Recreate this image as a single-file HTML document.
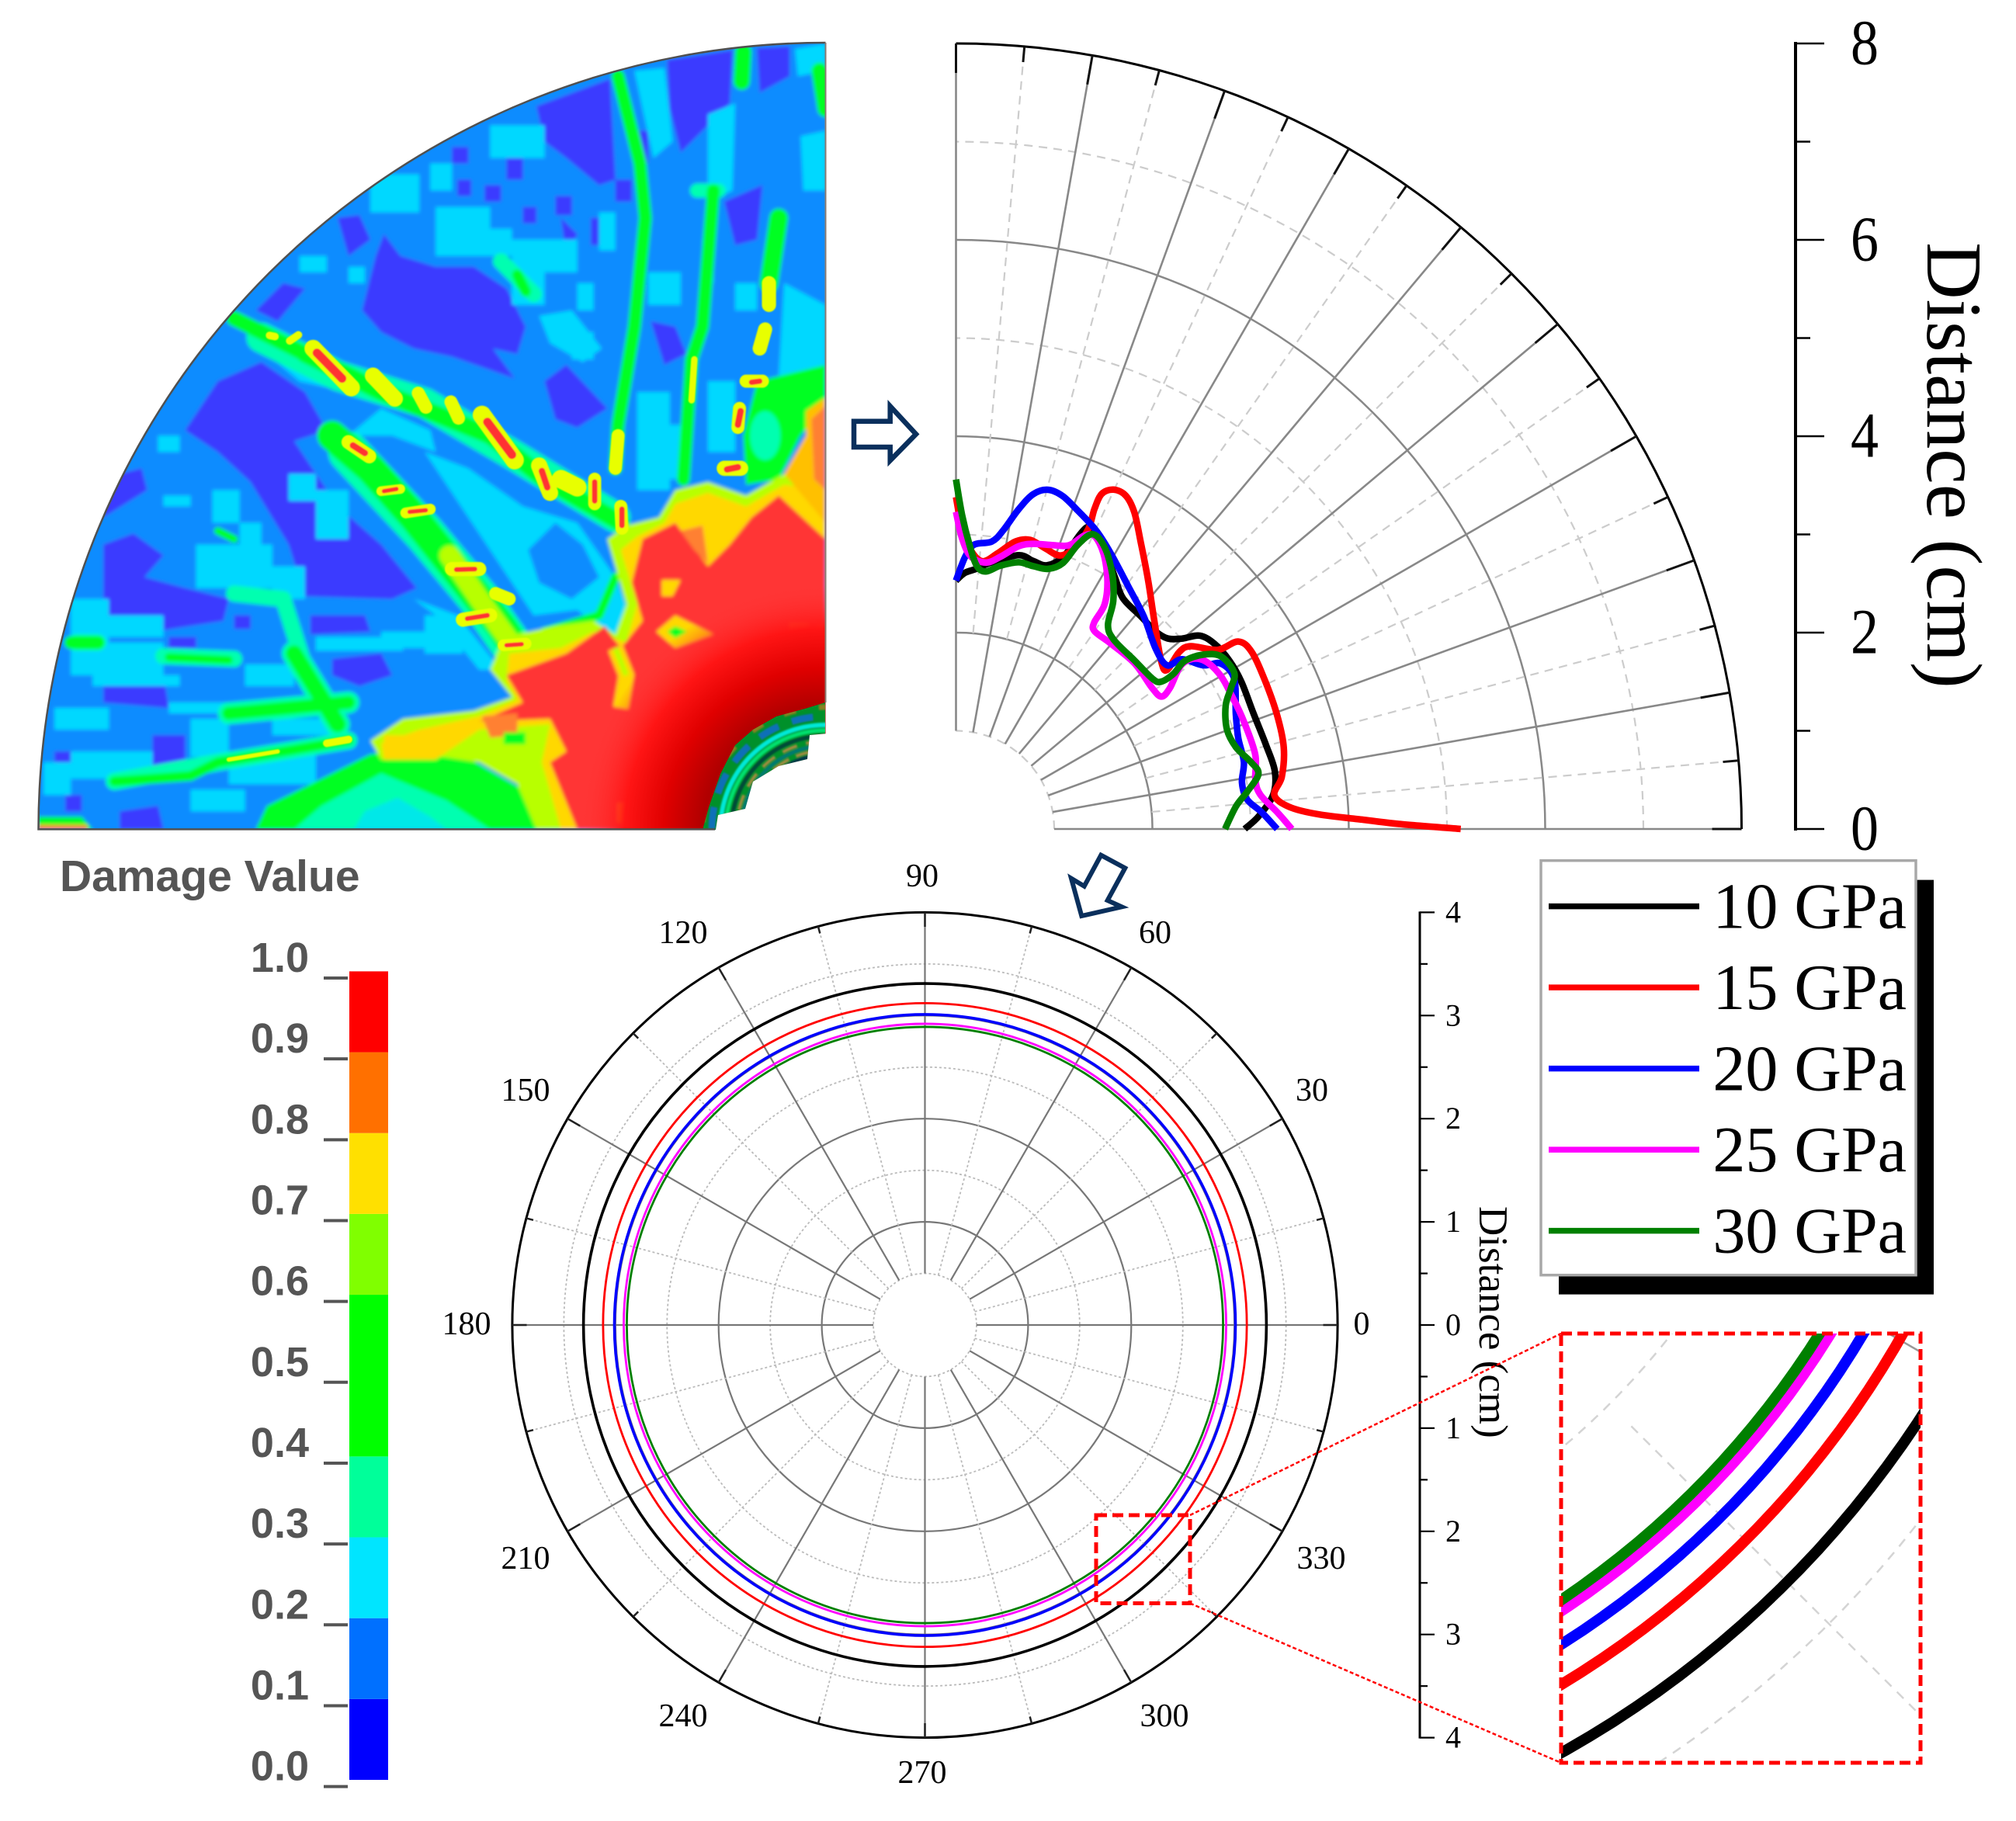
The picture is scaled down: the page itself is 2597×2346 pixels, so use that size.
<!DOCTYPE html>
<html lang="en">
<head>
<meta charset="utf-8">
<title>Damage distribution polar charts</title>
<style>
html,body{margin:0;padding:0;background:#fff;overflow:hidden;}
svg{display:block;}
text{font-family:"Liberation Serif",serif;fill:#000;}
.sans{font-family:"Liberation Sans",sans-serif;font-weight:bold;fill:#555;}
</style>
</head>
<body>
<svg id="figure" xmlns="http://www.w3.org/2000/svg" width="2597" height="2346" viewBox="0 0 2597 2346">
<defs>
<clipPath id="fanClip"><path d="M1516,1523 L70,1523 A1446,1446 0 0 1 1516,78 Z"/></clipPath>
<clipPath id="insetClip"><rect x="2011" y="1718" width="463" height="553"/></clipPath>
<filter id="soft" x="-5%" y="-5%" width="110%" height="110%"><feGaussianBlur stdDeviation="3.5"/></filter>
<filter id="softer" x="-5%" y="-5%" width="110%" height="110%"><feGaussianBlur stdDeviation="1"/></filter>
<radialGradient id="coreGrad" gradientUnits="userSpaceOnUse" cx="1516" cy="1523" r="450">
<stop offset="0.5" stop-color="#b00000"/>
<stop offset="0.66" stop-color="#e00000"/>
<stop offset="0.82" stop-color="#ff1515"/>
<stop offset="1" stop-color="#ff3535" stop-opacity="0"/>
</radialGradient>
<clipPath id="ringClip"><polygon points="905,1069 913,1040 928,997 947,960 970,940 1000,923 1037,913 1063,905 1063,945 1043,947 1040,978 1003,987 970,1007 960,1042 925,1050 922,1069"/></clipPath>
</defs>

<g transform="scale(0.70153)">
<g clip-path="url(#fanClip)">
<g filter="url(#soft)">
<rect x="60" y="70" width="1460" height="1460" fill="#0a8cff"/>

<g fill="#3a3aff">
<polygon points="985,195 1120,145 1130,330 1100,340 1040,290 1000,260"/>
<polygon points="1225,110 1345,92 1340,190 1290,240 1250,280 1230,200"/>
<polygon points="1390,88 1450,85 1450,140 1395,170"/>
<polygon points="665,570 690,470 705,430 735,470 800,490 870,490 930,530 965,600 950,650 905,640 945,695 830,655 760,640 700,610"/>
<polygon points="620,400 660,395 680,440 640,470"/>
<polygon points="1000,700 1040,670 1115,750 1060,785 1020,770"/>
<polygon points="470,570 520,520 560,530 510,590"/>
<polygon points="1195,590 1240,600 1260,650 1220,670"/>
<polygon points="1330,370 1400,340 1390,440 1350,450"/>
<polygon points="340,790 400,700 480,665 560,720 600,790 540,810 620,930 700,1000 765,1080 720,1100 560,1095 530,1000 460,885 400,830"/>
<polygon points="190,1000 245,980 300,1020 265,1060 340,1080 420,1100 410,1140 250,1165 190,1125"/>
<polygon points="570,1130 670,1130 680,1160 570,1165"/>
<polygon points="610,1210 700,1200 720,1240 660,1260 610,1240"/>
<polygon points="280,1350 340,1350 340,1420 280,1410"/>
<polygon points="100,1380 180,1380 170,1400 100,1400"/>
<polygon points="220,1490 290,1480 300,1523 220,1523"/>
<polygon points="190,1250 300,1240 310,1300 190,1290"/>
<polygon points="1030,400 1060,430 1040,470"/>
<polygon points="180,880 260,860 270,900 190,950"/>
<path d="M830 270h30v30h-30zM930 290h30v40h-30zM840 330h25v30h-25zM890 340h30v30h-30zM1020 360h30v35h-30zM960 380h25v30h-25zM1085 400h25v50h-25zM1170 240h20v60h-20zM1130 330h30v40h-30zM310 1170h50v20h-50zM430 1130h30v25h-30zM120 1460h30v30h-30zM440 1400h40v25h-40z"/>
</g>

<g fill="#00d8ff">
<polygon points="780,830 860,860 960,930 1060,960 1130,1060 1170,1170 1130,1180 1060,1120 980,1130 900,1010 840,920"/>
<polygon points="1440,520 1516,560 1516,680 1430,690"/>
<polygon points="1460,90 1516,80 1516,130 1465,140"/>
<polygon points="1470,250 1516,240 1516,350 1475,350"/>
<polygon points="1300,210 1350,190 1345,350 1300,370"/>
<polygon points="1165,130 1220,125 1235,260 1200,290 1180,200"/>
<polygon points="640,800 700,750 790,790 800,830 720,800"/>
<polygon points="550,700 480,640 520,660 640,720"/>
<polygon points="880,1230 800,1130 760,1100 840,1130 920,1230"/>
<polygon points="990,580 1050,570 1105,640 1070,665 1010,630"/>
<path d="M680 320h90v70h-90zM800 380h100v90h-100zM900 230h100v60h-100zM940 440h60v120h-60zM1000 440h60v60h-60zM1100 390h30v70h-30zM1050 610h40v50h-40zM550 470h50v30h-50zM640 490h30v30h-30zM790 300h40v50h-40zM880 420h60v50h-60zM1060 520h30v50h-30zM1190 500h60v60h-60zM1170 720h60v180h-60zM1300 700h50v130h-50zM1230 780h30v100h-30zM1290 440h20v80h-20zM1350 520h40v50h-40zM290 800h40v30h-40zM300 910h50v20h-50zM390 900h50v60h-50zM440 960h40v100h-40zM360 1000h140v80h-140zM130 1100h70v100h-70zM200 1130h100v40h-100zM500 1040h60v60h-60zM580 900h60v90h-60zM530 870h50v50h-50zM130 1180h170v60h-170zM170 1240h160v20h-160zM100 1300h100v40h-100zM350 1320h70v70h-70zM80 1400h50v60h-50zM420 1380h160v60h-160zM500 1320h120v30h-120zM780 1130h70v70h-70zM700 1160h80v30h-80zM310 1290h130v20h-130zM130 1380h150v50h-150zM350 1450h100v40h-100zM450 1220h90v40h-90zM580 1170h160v25h-160z"/>
</g>
<polygon points="970,1010 1020,960 1070,1000 1100,1060 1050,1100 990,1070" fill="#0a8cff"/>

<g fill="none" stroke-linecap="round" stroke-linejoin="round">
<g stroke="#00ffb0">
<polyline stroke-width="55" points="480,620 620,690 780,740 950,840 1130,950"/>
<polyline stroke-width="75" points="640,830 780,980 880,1100 950,1200"/>
<polyline stroke-width="30" points="140,1180 180,1180"/>
<polyline stroke-width="30" points="300,1205 430,1210"/>
<polyline stroke-width="40" points="420,1310 640,1290"/>
<polyline stroke-width="32" points="210,1435 400,1400 640,1360"/>
<polyline stroke-width="45" points="540,1200 620,1330"/>
<polyline stroke-width="30" points="430,1090 520,1100 555,1210"/>
<polyline stroke-width="30" points="920,480 980,540"/>
<polyline stroke-width="26" points="1280,350 1320,350"/>
</g>
<g stroke="#00ff20">
<polyline stroke-width="24" points="1135,140 1175,300 1185,400 1165,600 1135,780 1130,860"/>
<polyline stroke-width="30" points="1365,95 1362,150"/>
<polyline stroke-width="24" points="1310,350 1290,600 1270,660 1255,880"/>
<polyline stroke-width="34" points="1430,400 1412,520"/>
<polyline stroke-width="28" points="430,585 560,650"/>
<polyline stroke-width="32" points="560,650 700,720 900,800 1000,880 1140,960"/>
<polyline stroke-width="55" points="610,800 680,860 760,950 840,1050 920,1150 960,1210"/>
<polyline stroke-width="24" points="130,1180 180,1180"/>
<polyline stroke-width="15" points="310,1207 420,1212"/>
<polyline stroke-width="24" points="420,1310 640,1290"/>
<polyline stroke-width="18" points="210,1435 350,1425 400,1400 640,1360"/>
<polyline stroke-width="30" points="540,1200 620,1330"/>
<polyline stroke-width="30" points="1505,130 1516,200"/>
<polyline stroke-width="16" points="1000,1160 1100,1130 1130,1060"/>
<polyline stroke-width="20" points="950,505 965,535"/>
<polyline stroke-width="14" points="400,975 430,990"/>
</g>
<polyline stroke="#b8ff00" stroke-width="36" points="825,1020 880,1100 945,1190"/>
</g>

<polygon points="490,1480 680,1385 820,1370 960,1450 990,1523 470,1523" fill="#00ff20"/>
<polygon points="590,1480 700,1420 820,1470 900,1523 540,1523" fill="#00ffb0"/>
<polygon points="670,1490 730,1465 790,1500 820,1523 650,1523" fill="#00e8e8"/>
<polygon points="1390,700 1516,670 1516,740 1470,800 1430,880 1370,890 1365,800" fill="#00ff20"/>
<ellipse cx="1405" cy="800" rx="28" ry="45" fill="#00ffb0"/>

<polygon fill="#b8ff00" points="1516,880 1440,870 1370,910 1300,885 1240,900 1210,950 1150,965 1115,990 1150,1110 1130,1165 1090,1140 1020,1150 925,1170 900,1230 940,1280 870,1305 740,1320 680,1360 700,1395 780,1385 880,1400 950,1440 985,1523 1516,1523"/>
<polygon fill="#ffd800" points="1516,900 1440,890 1370,930 1300,905 1240,925 1220,960 1170,985 1140,1010 1170,1110 1150,1180 1090,1160 1030,1190 935,1200 930,1250 950,1285 880,1315 770,1340 700,1365 705,1395 800,1395 880,1340 1010,1330 995,1400 1030,1523 1516,1523"/>
<polygon fill="#ffc000" points="1440,870 1480,800 1480,755 1516,730 1516,960"/>
<polygon fill="#ff8030" points="1490,770 1516,745 1516,900 1495,880"/>
<polygon fill="#ff3535" points="1180,990 1240,960 1270,1000 1300,1040 1340,1000 1380,950 1430,910 1516,990 1516,1523 1060,1523 1010,1400 1040,1380 1010,1320 880,1325 960,1290 930,1240 1040,1200 1110,1150 1140,1190 1180,1140 1160,1070"/>
<polygon fill="#ff8030" points="1250,975 1290,965 1300,1035 1275,1010"/>
<polygon fill="#ff8030" points="885,1315 950,1310 950,1350 900,1355"/>
<rect x="705" y="1350" width="75" height="38" fill="#ffd800"/>
<polygon fill="#ffd800" points="1240,1130 1310,1165 1240,1190 1205,1160"/>
<polygon fill="#00ff20" points="1240,1150 1262,1160 1240,1172 1225,1160"/>
<polygon fill="#ffd800" points="1215,1065 1250,1065 1235,1095 1215,1095"/>
<rect x="1450" y="1145" width="35" height="28" fill="#ff8030"/>
<rect x="1500" y="1150" width="16" height="25" fill="#ff8030"/>
<rect x="1135" y="1475" width="30" height="35" fill="#ffd800"/>
<rect x="925" y="1345" width="40" height="22" fill="#00ff20"/>
<polyline points="1130,1190 1150,1240 1140,1300" fill="none" stroke="#ffd800" stroke-width="28"/>
<polyline points="1130,1190 1150,1240" fill="none" stroke="#b8ff00" stroke-width="10"/>
<polygon fill="#00ff20" points="70,1500 150,1500 170,1523 70,1523"/>
<rect x="70" y="1515" width="90" height="8" fill="#ff8030"/>
</g>

<g filter="url(#softer)" stroke-linecap="round" fill="none">
<g stroke="#e8ff00">
<line x1="575" y1="640" x2="645" y2="712" stroke-width="32"/>
<line x1="685" y1="690" x2="725" y2="732" stroke-width="30"/>
<line x1="768" y1="722" x2="782" y2="748" stroke-width="24"/>
<line x1="828" y1="738" x2="842" y2="768" stroke-width="24"/>
<line x1="885" y1="762" x2="945" y2="845" stroke-width="34"/>
<line x1="990" y1="855" x2="1010" y2="905" stroke-width="30"/>
<line x1="1030" y1="880" x2="1060" y2="895" stroke-width="34"/>
<line x1="1092" y1="880" x2="1092" y2="925" stroke-width="24"/>
<line x1="1140" y1="930" x2="1142" y2="970" stroke-width="24"/>
<line x1="640" y1="812" x2="678" y2="838" stroke-width="26"/>
<line x1="700" y1="902" x2="735" y2="898" stroke-width="18"/>
<line x1="745" y1="942" x2="790" y2="935" stroke-width="20"/>
<line x1="830" y1="1045" x2="880" y2="1045" stroke-width="26"/>
<line x1="910" y1="1090" x2="935" y2="1100" stroke-width="24"/>
<line x1="850" y1="1138" x2="900" y2="1130" stroke-width="26"/>
<line x1="925" y1="1185" x2="965" y2="1182" stroke-width="22"/>
<line x1="495" y1="616" x2="505" y2="618" stroke-width="14"/>
<line x1="532" y1="626" x2="548" y2="615" stroke-width="14"/>
<line x1="1412" y1="520" x2="1412" y2="560" stroke-width="26"/>
<line x1="1405" y1="605" x2="1395" y2="640" stroke-width="26"/>
<line x1="1370" y1="700" x2="1400" y2="700" stroke-width="24"/>
<line x1="1358" y1="750" x2="1355" y2="785" stroke-width="24"/>
<line x1="1330" y1="860" x2="1360" y2="860" stroke-width="28"/>
<line x1="1135" y1="800" x2="1130" y2="860" stroke-width="24"/>
<line x1="1275" y1="660" x2="1270" y2="735" stroke-width="12"/>
<line x1="600" y1="1365" x2="640" y2="1358" stroke-width="14"/>
<line x1="420" y1="1395" x2="510" y2="1380" stroke-width="8"/>
</g>
<g stroke="#ff3030">
<line x1="582" y1="648" x2="628" y2="695" stroke-width="16"/>
<line x1="895" y1="775" x2="940" y2="835" stroke-width="16"/>
<line x1="995" y1="865" x2="1005" y2="895" stroke-width="12"/>
<line x1="1092" y1="885" x2="1092" y2="920" stroke-width="10"/>
<line x1="1142" y1="935" x2="1142" y2="965" stroke-width="10"/>
<line x1="648" y1="818" x2="670" y2="832" stroke-width="12"/>
<line x1="705" y1="902" x2="728" y2="898" stroke-width="8"/>
<line x1="752" y1="940" x2="782" y2="937" stroke-width="8"/>
<line x1="838" y1="1046" x2="872" y2="1045" stroke-width="9"/>
<line x1="858" y1="1136" x2="895" y2="1130" stroke-width="9"/>
<line x1="930" y1="1185" x2="958" y2="1183" stroke-width="8"/>
<line x1="1360" y1="755" x2="1355" y2="780" stroke-width="12"/>
<line x1="1335" y1="862" x2="1355" y2="858" stroke-width="12"/>
<line x1="1380" y1="702" x2="1395" y2="700" stroke-width="10"/>
</g>
</g>
<circle cx="1516" cy="1523" r="450" fill="url(#coreGrad)"/>
</g>
</g>

<g>
<polygon points="905,1069 913,1040 928,997 947,960 970,940 1000,923 1037,913 1063,905 1063,945 1043,947 1040,978 1003,987 970,1007 960,1042 925,1050 922,1069" fill="#00902a"/>
<g clip-path="url(#ringClip)" fill="none" filter="url(#softer)">
<circle cx="1063" cy="1069" r="158" stroke="#8a8020" stroke-width="7" stroke-dasharray="16 30"/>
<circle cx="1063" cy="1069" r="146" stroke="#0a70b8" stroke-width="9" stroke-dasharray="28 18"/>
<circle cx="1063" cy="1069" r="135" stroke="#00e8d8" stroke-width="6"/>
<circle cx="1063" cy="1069" r="128" stroke="#00e070" stroke-width="5"/>
<circle cx="1063" cy="1069" r="121" stroke="#004838" stroke-width="5"/>
<circle cx="1063" cy="1069" r="114" stroke="#a08a40" stroke-width="4" stroke-dasharray="20 12"/>
<circle cx="1063" cy="1069" r="108" stroke="#007a70" stroke-width="5"/>
<circle cx="1063" cy="1069" r="102" stroke="#a08a40" stroke-width="4" stroke-dasharray="24 10"/>
<circle cx="1063" cy="1069" r="96" stroke="#003848" stroke-width="5"/>
</g>
<polygon points="1066,1071 920,1071 922,1069 925,1050 960,1042 970,1007 1003,987 1040,978 1043,947 1066,945" fill="#fff"/>
</g>

<path d="M921,1068.4 L49.5,1068.4 A1014,1014 0 0 1 1063.5,55" fill="none" stroke="#505050" stroke-width="2.5"/>
<line x1="1063.5" y1="55" x2="1063.5" y2="905" stroke="#8a7a70" stroke-width="2"/>

<polygon points="1100,542.7 1146.7,542.7 1146.7,523.3 1180,559.3 1146.7,593.3 1146.7,576 1100,576" fill="#fff" stroke="#0a2f5c" stroke-width="6.5"/>
<polygon points="1418.3,1101.7 1449.3,1118.3 1426.7,1160 1445,1168.3 1393.3,1180 1380,1131.7 1396.7,1141.7" fill="#fff" stroke="#0a2f5c" stroke-width="6"/>

<g id="colorbar"></g>
<text class="sans" x="77" y="1148" font-size="57">Damage Value</text>

<g id="upperChart"></g>
<g id="lowerChart"></g>

<g>
<rect x="2008" y="1133.6" width="483" height="534" fill="#000"/>
<rect x="1985" y="1108.7" width="483" height="534" fill="#fff" stroke="#a8a8a8" stroke-width="3.5"/>
<g id="legendEntries"></g>
</g>

<g>
<rect x="1412" y="1952" width="121" height="113.5" fill="none" stroke="#ff0000" stroke-width="5" stroke-dasharray="14 7"/>
<line x1="1533" y1="1952" x2="2011" y2="1718" stroke="#ff0000" stroke-width="2.5" stroke-dasharray="5 3"/>
<line x1="1533" y1="2065.5" x2="2011" y2="2271" stroke="#ff0000" stroke-width="2.5" stroke-dasharray="5 3"/>
<rect x="2011" y="1718" width="463" height="553" fill="#fff"/>
<g id="insetChart" clip-path="url(#insetClip)"></g>
<rect x="2011" y="1718" width="463" height="553" fill="none" stroke="#ff0000" stroke-width="5" stroke-dasharray="14 7"/>
</g>
</svg>

<script>
// Shared series information
const seriesNames = ['10 GPa', '15 GPa', '20 GPa', '25 GPa', '30 GPa'];

// Upper chart: polar angle (degrees) and distance (cm) along each crack-front curve
const angle10 = [90, 88, 85.4, 82.4, 77.1, 73.9, 71, 68.5, 67.1, 66.1, 63.6, 60.7, 57.7, 54.1, 49.1, 44.8, 42, 40.1, 38.4, 35.5, 31.6, 27.3, 21.1, 15.3, 10.3, 6.2, 2.5, 0];
const dist10 = [2.53, 2.61, 2.66, 2.74, 2.86, 2.84, 2.84, 2.98, 3.27, 3.36, 3.27, 3.16, 3.03, 2.9, 2.87, 2.86, 2.9, 3.01, 3.17, 3.24, 3.27, 3.27, 3.25, 3.27, 3.3, 3.25, 3.09, 2.94];

const angle15 = [90, 88.9, 86.9, 84.3, 81.4, 78.3, 75.6, 72.4, 69.2, 67.1, 66.2, 66.6, 66.5, 65.1, 63, 60.6, 57.3, 52.3, 46.7, 39.3, 37, 38.4, 37.9, 34.4, 33.6, 30.9, 25.5, 19.6, 14, 9.1, 6.1, 3.8, 2.3, 1.3, 0.65, 0];
const dist15 = [3.38, 3.08, 2.84, 2.74, 2.84, 2.99, 3.04, 3, 2.98, 3.11, 3.34, 3.55, 3.72, 3.81, 3.81, 3.7, 3.48, 3.2, 2.94, 2.7, 2.69, 2.9, 3.03, 3.23, 3.45, 3.51, 3.49, 3.47, 3.44, 3.36, 3.26, 3.4, 3.7, 4.15, 4.51, 5.14];

const angle20 = [90, 88.1, 86.4, 82.9, 81, 78.9, 77, 74.8, 72.2, 69, 64.9, 60.7, 54.6, 48.6, 42.1, 37.8, 36.9, 33.5, 32, 28.4, 22.3, 17.8, 13.1, 9.2, 5.8, 3.1, 0];
const dist20 = [2.53, 2.77, 2.9, 2.95, 3.08, 3.32, 3.5, 3.58, 3.56, 3.47, 3.36, 3.22, 3.03, 2.89, 2.74, 2.72, 2.88, 3.02, 3.18, 3.22, 3.08, 3.02, 3.01, 2.95, 2.98, 3.12, 3.27];

const angle25 = [90, 88.8, 86.9, 83.6, 80.7, 77.5, 74.8, 71.5, 68.3, 66.4, 64.7, 61.8, 58.6, 56.5, 56.2, 55, 50.2, 42.8, 35.7, 32.8, 33.4, 36.1, 34.8, 30.8, 25.6, 20.1, 13.9, 9.3, 6.4, 2.9, 0];
const dist25 = [3.23, 2.96, 2.78, 2.73, 2.81, 2.95, 3.01, 3.05, 3.11, 3.26, 3.3, 3.18, 2.96, 2.74, 2.53, 2.46, 2.46, 2.48, 2.46, 2.49, 2.61, 2.85, 3.03, 3.11, 3.12, 3.13, 3.14, 3.09, 3.12, 3.28, 3.42];

const angle30 = [90, 88.9, 87.3, 85.5, 83.4, 80.4, 76.8, 73.6, 70.5, 68.1, 66.8, 65.1, 62.1, 58.4, 55.4, 53.3, 50.2, 43.3, 37.4, 35.7, 35.5, 36.3, 35.2, 33.1, 29.3, 27.2, 24.6, 20.2, 16.3, 12.8, 10.3, 7.3, 4.6, 0];
const dist30 = [3.56, 3.2, 2.9, 2.69, 2.64, 2.72, 2.79, 2.79, 2.81, 2.92, 3.15, 3.31, 3.24, 3.04, 2.82, 2.59, 2.51, 2.5, 2.52, 2.57, 2.72, 2.89, 3.08, 3.22, 3.25, 3.15, 3.02, 2.94, 2.97, 3.08, 3.13, 2.99, 2.86, 2.74];

// Lower chart: ring radius (cm) per series
const ringRadius = [3.31, 3.12, 3.01, 2.92, 2.89];

// Tick labels
const upperTicks = [8, 7, 6, 5, 4, 3, 2, 1, 0];
const upperTickLabels = ['8', '6', '4', '2', '0'];
const upperLabelValues = [8, 6, 4, 2, 0];
const lowerTicks = [4, 3.5, 3, 2.5, 2, 1.5, 1, 0.5, 0, -0.5, -1, -1.5, -2, -2.5, -3, -3.5, -4];
const lowerTickLabels = ['4', '3', '2', '1', '0', '1', '2', '3', '4'];
const lowerLabelValues = [4, 3, 2, 1, 0, -1, -2, -3, -4];
const lowerAngleLabels = ['0', '30', '60', '90', '120', '150', '180', '210', '240', '270', '300', '330'];

// Colorbar
const barLevels = [0, 0.1, 0.2, 0.3, 0.4, 0.6, 0.7, 0.8, 0.9, 1.0];
const barTicks = [0, 0.1, 0.2, 0.3, 0.4, 0.5, 0.6, 0.7, 0.8, 0.9, 1.0];
const barTickLabels = ['0.0', '0.1', '0.2', '0.3', '0.4', '0.5', '0.6', '0.7', '0.8', '0.9', '1.0'];

const seriesAngles = [angle10, angle15, angle20, angle25, angle30];
const seriesDists = [dist10, dist15, dist20, dist25, dist30];
const seriesColors = ['#000000', '#ff0000', '#0000ff', '#ff00ff', '#008000'];
const barColors = ['#0000ff', '#0070ff', '#00e5ff', '#00ff9a', '#00ff00', '#80ff00', '#ffe000', '#ff7000', '#ff0000'];

const NS = 'http://www.w3.org/2000/svg';
function make(tag, attrs, parent, content) {
  const el = document.createElementNS(NS, tag);
  Object.keys(attrs).forEach(function (k) { el.setAttribute(k, attrs[k]); });
  if (content !== undefined) el.textContent = content;
  parent.appendChild(el);
  return el;
}
const rad = function (d) { return d * Math.PI / 180; };

// ---- axis functions
function upperX(r, a) { return 1231.5 + 126.5 * r * Math.cos(rad(a)); }
function upperY(r, a) { return 1068 - 126.5 * r * Math.sin(rad(a)); }
function lowerX(r, a) { return 1191.5 + 132.9 * r * Math.cos(rad(a)); }
function lowerY(r, a) { return 1707 - 132.9 * r * Math.sin(rad(a)); }
function insetX(r, a) { return 1366 + 400 * r * Math.cos(rad(a)); }
function insetY(r, a) { return 1102 - 400 * r * Math.sin(rad(a)); }
function barY(v) { return 2301.6 - v * 1041.6; }

function smoothPath(pts) {
  let d = 'M' + pts[0][0].toFixed(1) + ',' + pts[0][1].toFixed(1);
  for (let i = 0; i < pts.length - 1; i++) {
    const p0 = pts[Math.max(i - 1, 0)], p1 = pts[i], p2 = pts[i + 1], p3 = pts[Math.min(i + 2, pts.length - 1)];
    const c1x = p1[0] + (p2[0] - p0[0]) / 6, c1y = p1[1] + (p2[1] - p0[1]) / 6;
    const c2x = p2[0] - (p3[0] - p1[0]) / 6, c2y = p2[1] - (p3[1] - p1[1]) / 6;
    d += 'C' + c1x.toFixed(1) + ',' + c1y.toFixed(1) + ' ' + c2x.toFixed(1) + ',' + c2y.toFixed(1) + ' ' + p2[0].toFixed(1) + ',' + p2[1].toFixed(1);
  }
  return d;
}
function arcPath(fx, fy, r, a0, a1) {
  let d = '';
  for (let a = a0; a <= a1 + 0.001; a += 1.5) {
    d += (d ? 'L' : 'M') + fx(r, a).toFixed(1) + ',' + fy(r, a).toFixed(1);
  }
  return d;
}
function angleLabelPlace(label) {
  const places = {
    '0': [1754, 1706], '30': [1690, 1405], '60': [1488, 1202], '90': [1188, 1129],
    '120': [880, 1202], '150': [677, 1405], '180': [601, 1706], '210': [677, 2008],
    '240': [880, 2211], '270': [1188, 2284], '300': [1500, 2211], '330': [1702, 2008]
  };
  return places[label];
}

// ---- colorbar
const colorbar = document.getElementById('colorbar');
barColors.forEach(function (c, i) {
  const top = barY(barLevels[i + 1]) - 8.6, bottom = barY(barLevels[i]) - 8.6;
  const band = make('rect', { x: 450, y: top, width: 50, height: bottom - top, fill: c }, colorbar);
  
  
});
barTicks.forEach(function (v, i) {
  const t = make('line', { x1: 417, x2: 448, y1: barY(v), y2: barY(v), stroke: '#555', 'stroke-width': 4 }, colorbar);
  
  
  const l = make('text', { x: 398, y: barY(v) - 8, 'text-anchor': 'end', 'font-size': 54, class: 'sans' }, colorbar, barTickLabels[i]);
  
  
});

// ---- upper polar chart
const upper = document.getElementById('upperChart');
for (let r = 1; r <= 8; r++) {
  const major = r % 2 === 0;
  const arc = make('path', {
    d: arcPath(upperX, upperY, r, 0, 90), fill: 'none',
    stroke: r === 8 ? '#000' : (major ? '#888' : '#ccc'),
    'stroke-width': r === 8 ? 3 : (major ? 2.5 : 2.2),
    'stroke-dasharray': major ? 'none' : '11 8'
  }, upper);
  
  
}
for (let a = 0; a <= 90; a += 5) {
  const major = a % 10 === 0;
  const start = major ? 1 : 2;
  const spoke = make('line', {
    x1: upperX(start, a), y1: upperY(start, a), x2: upperX(8, a), y2: upperY(8, a),
    stroke: major ? '#888' : '#ccc', 'stroke-width': major ? 2.6 : 2.2,
    'stroke-dasharray': major ? 'none' : '11 8'
  }, upper);
  
  
  const inner = 8 - (major ? 0.3 : 0.16);
  const tick = make('line', {
    x1: upperX(inner, a), y1: upperY(inner, a), x2: upperX(8, a), y2: upperY(8, a),
    stroke: '#111', 'stroke-width': 3
  }, upper);
  
  
}
seriesNames.forEach(function (name, i) {
  const pts = seriesAngles[i].map(function (a, k) {
    return [upperX(seriesDists[i][k], a), upperY(seriesDists[i][k], a)];
  });
  const line = make('path', {
    d: smoothPath(pts), fill: 'none', stroke: seriesColors[i], 'stroke-width': 8.5, 'stroke-linejoin': 'round'
  }, upper);
  
  
});
// upper distance axis
function upperAxisY(v) { return 1068 - 126.5 * v; }
const upperAxis = make('line', { x1: 2313, x2: 2313, y1: upperAxisY(8) - 2, y2: upperAxisY(0) + 2, stroke: '#000', 'stroke-width': 4 }, upper);


upperTicks.forEach(function (v) {
  const t = make('line', { x1: 2313, x2: v % 2 === 0 ? 2350 : 2332, y1: upperAxisY(v), y2: upperAxisY(v), stroke: '#000', 'stroke-width': 2.5 }, upper);
  
  
});
upperLabelValues.forEach(function (v, i) {
  const l = make('text', {
    transform: 'translate(2402,' + (upperAxisY(v) + 26.5) + ') scale(1,1.15)',
    'text-anchor': 'middle', 'font-size': 72
  }, upper, upperTickLabels[i]);
  
  
});
const upperTitle = make('text', { transform: 'translate(2483,312) rotate(90)', 'font-size': 102 }, upper, 'Distance (cm)');



// ---- lower polar chart
const lower = document.getElementById('lowerChart');
[0.5, 1, 1.5, 2, 2.5, 3, 3.5, 4].forEach(function (r) {
  const major = r % 1 === 0;
  const ring = make('circle', {
    cx: lowerX(0, 0), cy: lowerY(0, 0), r: 132.9 * r, fill: 'none',
    stroke: r === 4 ? '#000' : (major ? '#777' : '#bbb'),
    'stroke-width': r === 4 ? 3 : (major ? 2.2 : 1.8),
    'stroke-dasharray': major ? 'none' : '3 3'
  }, lower);
  
  
});
for (let a = 0; a < 360; a += 15) {
  const major = a % 30 === 0;
  const spoke = make('line', {
    x1: lowerX(0.5, a), y1: lowerY(0.5, a), x2: lowerX(4, a), y2: lowerY(4, a),
    stroke: major ? '#777' : '#bbb', 'stroke-width': major ? 2.2 : 1.8,
    'stroke-dasharray': major ? 'none' : '3 3'
  }, lower);
  
  
  const inner = 4 - (major ? 0.14 : 0.07);
  const tick = make('line', {
    x1: lowerX(inner, a), y1: lowerY(inner, a), x2: lowerX(4, a), y2: lowerY(4, a),
    stroke: '#222', 'stroke-width': 2.5
  }, lower);
  
  
}
seriesNames.forEach(function (name, i) {
  const ring = make('circle', {
    cx: lowerX(0, 0), cy: lowerY(0, 0), r: 132.9 * ringRadius[i], fill: 'none',
    stroke: seriesColors[i], 'stroke-width': i === 0 || i === 2 ? 3.6 : 2.8
  }, lower);
  
  
});
lowerAngleLabels.forEach(function (label) {
  const place = angleLabelPlace(label);
  const l = make('text', {
    x: place[0], y: place[1] + 13, 'text-anchor': 'middle', 'font-size': 42
  }, lower, label);
  
  
});
const lowerAxis = make('line', { x1: 1829, x2: 1829, y1: lowerY(4, 90) - 1, y2: lowerY(4, 270) + 1, stroke: '#000', 'stroke-width': 3 }, lower);


lowerTicks.forEach(function (v) {
  const y = lowerY(0, 0) - 132.9 * v;
  const t = make('line', { x1: 1829, x2: v % 1 === 0 ? 1848 : 1839, y1: y, y2: y, stroke: '#000', 'stroke-width': 2.2 }, lower);
  
  
});
lowerLabelValues.forEach(function (v, i) {
  const l = make('text', { x: 1872, y: lowerY(0, 0) - 132.9 * v + 13, 'text-anchor': 'middle', 'font-size': 40 }, lower, lowerTickLabels[i]);
  
  
});
const lowerTitle = make('text', { transform: 'translate(1906,1554) rotate(90)', 'font-size': 53 }, lower, 'Distance (cm)');



// ---- legend
const legendEntries = document.getElementById('legendEntries');
const legendRowY = function (i) { return 1167.6 + 104.5 * i; };
seriesNames.forEach(function (name, i) {
  const swatch = make('line', { x1: 1995, x2: 2189, y1: legendRowY(i), y2: legendRowY(i), stroke: seriesColors[i], 'stroke-width': 7.5 }, legendEntries);
  
  
  const label = make('text', { x: 2456, y: legendRowY(i) + 28, 'text-anchor': 'end', 'font-size': 84 }, legendEntries, name);
  
  
});

// ---- magnified inset
const inset = document.getElementById('insetChart');
[2.5, 3.5].forEach(function (r) {
  const g = make('path', { d: arcPath(insetX, insetY, r, -62, -15), fill: 'none', stroke: '#d4d4d4', 'stroke-width': 2.5, 'stroke-dasharray': '12 10' }, inset);
  
  
});
const insetSpokeDashed = make('line', { x1: insetX(2.6, -45), y1: insetY(2.6, -45), x2: insetX(4.1, -45), y2: insetY(4.1, -45), stroke: '#d4d4d4', 'stroke-width': 2.5, 'stroke-dasharray': '12 10' }, inset);


const insetSpokeSolid = make('line', { x1: insetX(3, -30), y1: insetY(3, -30), x2: insetX(3.2, -30), y2: insetY(3.2, -30), stroke: '#999', 'stroke-width': 2.5 }, inset);


seriesNames.forEach(function (name, i) {
  const line = make('path', {
    d: arcPath(insetX, insetY, ringRadius[i], -62, -15), fill: 'none',
    stroke: seriesColors[i], 'stroke-width': 14
  }, inset);
  
  
});
</script>
</body>
</html>
